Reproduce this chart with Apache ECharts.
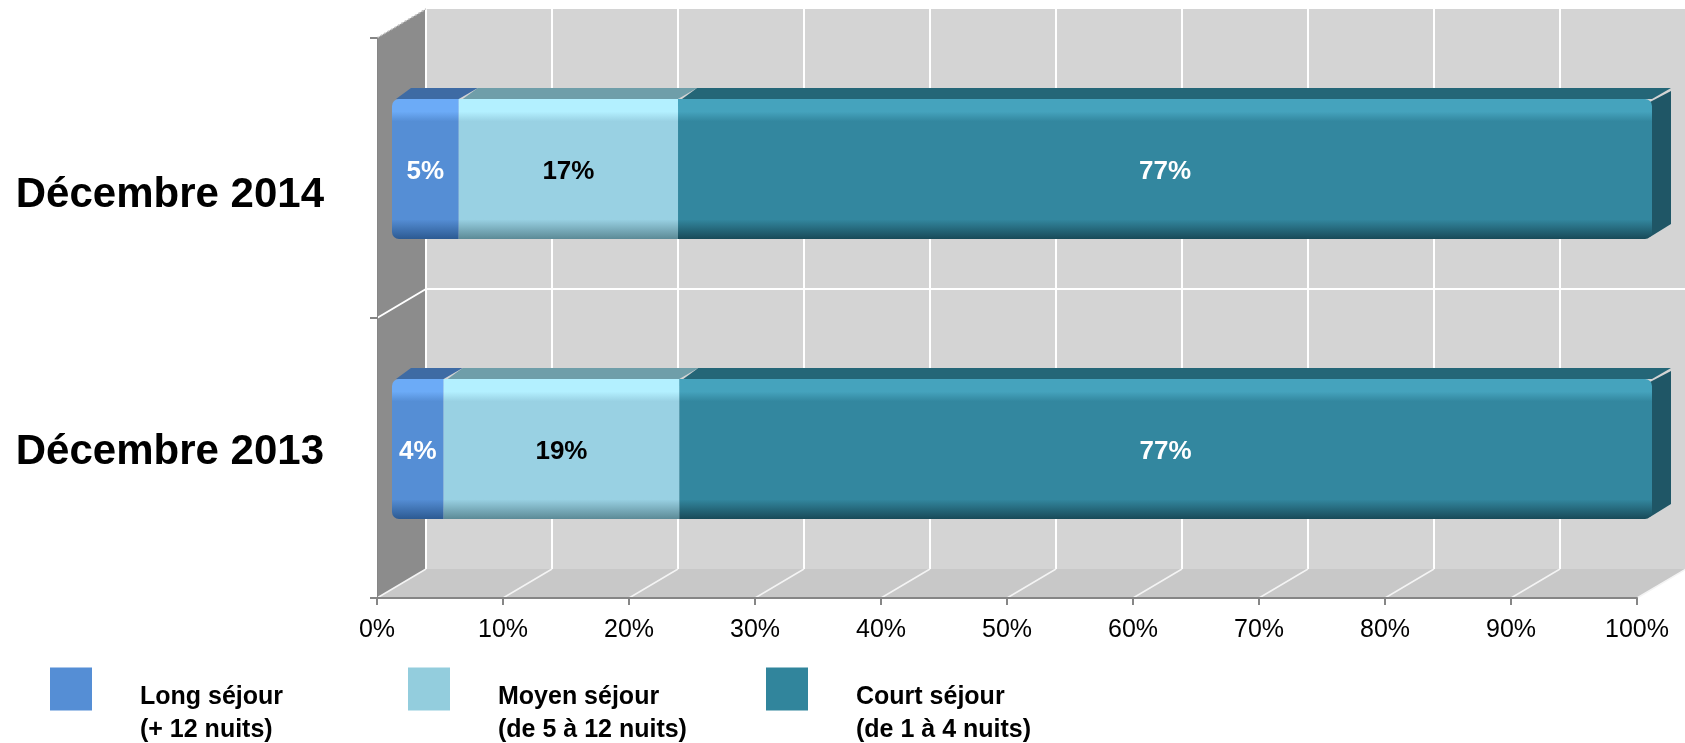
<!DOCTYPE html>
<html>
<head>
<meta charset="utf-8">
<script src="https://cdn.jsdelivr.net/npm/echarts@6/dist/echarts.min.js"></script>
<style>
  html, body { margin: 0; padding: 0; background: #fff; }
  #chart { width: 1685px; height: 743px; }
</style>
</head>
<body>
<div id="chart"></div>
<script>
// données
var categories = ['Décembre 2013', 'Décembre 2014'];
var longSejour = [4.1, 5.3];
var moyenSejour = [18.7, 17.4];
var courtSejour = [77.2, 77.3];
var seriesNames = ['Long séjour\n(+ 12 nuits)', 'Moyen séjour\n(de 5 à 12 nuits)', 'Court séjour\n(de 1 à 4 nuits)'];

// effet 3D
var WALL = [49, -29];   // profondeur du fond
var OFF = [15, -9];     // face avant des barres
var DEP = [19, -11];    // épaisseur des barres
var FONT = 'Arial, "Liberation Sans", sans-serif';

var styles = [
  { base: '#558ed5', hi: '#6cabf7', lo: '#2c5a92', top: '#3e6ba4', label: '#ffffff' },
  { base: '#99d1e3', hi: '#b3f0ff', lo: '#5c8a96', top: '#6f9ea9', label: '#000000' },
  { base: '#33879f', hi: '#45a3bd', lo: '#184a58', top: '#246677', side: '#1f5666', label: '#ffffff' }
];

function buildData(vals, starts) {
  return categories.map(function (c, i) {
    return [i, starts[i], starts[i] + vals[i], vals[i]];
  });
}
var start1 = categories.map(function () { return 0; });
var start2 = longSejour.slice();
var start3 = longSejour.map(function (v, i) { return v + moyenSejour[i]; });

function grad(s) {
  return new echarts.graphic.LinearGradient(0, 0, 0, 1, [
    { offset: 0, color: s.hi },
    { offset: 0.09, color: s.hi },
    { offset: 0.16, color: s.base },
    { offset: 0.86, color: s.base },
    { offset: 1, color: s.lo }
  ]);
}

function barRender(s, idx) {
  return function (params, api) {
    var cat = api.value(0);
    var a = api.coord([api.value(1), cat]);
    var b = api.coord([api.value(2), cat]);
    var h = api.size([0, 1])[1] * 0.5;
    var x0 = a[0] + OFF[0], x1 = b[0] + OFF[0];
    var yT = a[1] - h / 2 + OFF[1], yB = yT + h;
    var r = idx === 0 ? [7, 0, 0, 7] : (idx === 2 ? [0, 7, 7, 0] : 0);
    var children = [
      {
        type: 'polygon',
        shape: { points: [[x0 + 4, yT], [x1, yT], [x1 + DEP[0], yT + DEP[1]], [x0 + DEP[0], yT + DEP[1]]] },
        style: { fill: s.top }
      }
    ];
    if (idx === 2) {
      children.push({
        type: 'polygon',
        shape: { points: [[x1 - 2, yT + 3], [x1 + DEP[0], yT + DEP[1] + 3], [x1 + DEP[0], yB + DEP[1] - 4], [x1 - 2, yB - 2]] },
        style: { fill: s.side }
      });
    }
    children.push({
      type: 'rect',
      shape: { x: x0, y: yT, width: x1 - x0, height: h, r: r },
      style: { fill: grad(s) }
    });
    children.push({
      type: 'text',
      style: {
        text: Math.round(api.value(3)) + '%',
        x: (x0 + x1) / 2, y: (yT + yB) / 2 + 3,
        align: 'center', verticalAlign: 'middle',
        font: 'bold 26px ' + FONT, fill: s.label
      }
    });
    return { type: 'group', children: children };
  };
}

function wallsRender(params, api) {
  var band = api.size([0, 1])[1];
  var xL = api.coord([0, 0])[0];
  var xR = api.coord([100, 0])[0];
  var yBot = api.coord([0, 0])[1] + band / 2;
  var yTop = api.coord([0, categories.length - 1])[1] - band / 2;
  var dx = WALL[0], dy = WALL[1];
  var children = [
    { type: 'rect', shape: { x: xL + dx, y: yTop + dy, width: xR - xL, height: yBot - yTop }, style: { fill: '#d4d4d4' } },
    { type: 'polygon', shape: { points: [[xL, yBot], [xR, yBot], [xR + dx, yBot + dy], [xL + dx, yBot + dy]] }, style: { fill: '#c8c8c8' } },
    { type: 'polygon', shape: { points: [[xL, yTop], [xL + dx, yTop + dy], [xL + dx, yBot + dy], [xL, yBot]] }, style: { fill: '#8c8c8c' } }
  ];
  for (var v = 0; v <= 100; v += 10) {
    var x = api.coord([v, 0])[0];
    children.push({ type: 'line', shape: { x1: x + dx, y1: yTop + dy, x2: x + dx, y2: yBot + dy }, style: { stroke: '#ffffff', lineWidth: 2 } });
    children.push({ type: 'line', shape: { x1: x, y1: yBot, x2: x + dx, y2: yBot + dy }, style: { stroke: '#f4f4f4', lineWidth: 1.5 } });
  }
  for (var i = 1; i < categories.length; i++) {
    var y = api.coord([0, i])[1] + band / 2;
    children.push({ type: 'line', shape: { x1: xL + dx, y1: y + dy, x2: xR + dx, y2: y + dy }, style: { stroke: '#ffffff', lineWidth: 2 } });
    children.push({ type: 'line', shape: { x1: xL, y1: y, x2: xL + dx, y2: y + dy }, style: { stroke: '#ffffff', lineWidth: 2 } });
  }
  children.push({ type: 'line', shape: { x1: xL, y1: yTop, x2: xL + dx, y2: yTop + dy }, style: { stroke: '#bdbdbd', lineWidth: 1.5, lineDash: [2, 2] } });
  return { type: 'group', children: children };
}

function legendAt(name, left) {
  return {
    data: [{ name: name, icon: 'rect' }],
    left: left, top: 631, padding: 0,
    itemWidth: 42, itemHeight: 43,
    selectedMode: false,
    formatter: function (n) {
      return '{p|}\n' + n.split('\n').map(function (l) { return '{t|' + l + '}'; }).join('\n');
    },
    textStyle: {
      fontFamily: FONT, fontWeight: 'bold', fontSize: 25, color: '#000',
      rich: {
        p: { height: 50, lineHeight: 50, padding: [0, 0, 0, 43] },
        t: { fontFamily: FONT, fontWeight: 'bold', fontSize: 25, color: '#000', lineHeight: 33, padding: [0, 0, 0, 43] }
      }
    }
  };
}

var myChart = echarts.init(document.getElementById('chart'));
var option = {
  backgroundColor: '#ffffff',
  animation: false,
  legend: [
    legendAt(seriesNames[0], 50),
    legendAt(seriesNames[1], 408),
    legendAt(seriesNames[2], 766)
  ],
  grid: { left: 377, right: 48, top: 38, bottom: 145 },
  xAxis: {
    type: 'value', min: 0, max: 100, interval: 10,
    axisLine: { show: true, lineStyle: { color: '#868686', width: 2 } },
    axisTick: { show: true, length: 7, lineStyle: { color: '#868686', width: 2 } },
    splitLine: { show: false },
    axisLabel: { formatter: '{value}%', color: '#000', fontFamily: FONT, fontSize: 25, margin: 20 }
  },
  yAxis: {
    type: 'category', data: categories,
    axisLine: { show: true, lineStyle: { color: '#868686', width: 1 } },
    axisTick: { show: true, length: 7, lineStyle: { color: '#868686', width: 2 } },
    axisLabel: {
      margin: 53,
      formatter: function (v) {
        return v.indexOf('2014') >= 0 ? '{a|' + v + '}' : '{b|' + v + '}';
      },
      rich: {
        a: { fontFamily: FONT, fontWeight: 'bold', fontSize: 42, color: '#000', padding: [34, 0, 0, 0] },
        b: { fontFamily: FONT, fontWeight: 'bold', fontSize: 42, color: '#000', padding: [0, 0, 12, 0] }
      }
    }
  },
  series: [
    {
      name: 'walls', type: 'custom', silent: true, z: 0,
      data: [[0, 0]], encode: { x: 0, y: 1 },
      renderItem: wallsRender
    },
    {
      name: seriesNames[0], type: 'custom', z: 2,
      itemStyle: { color: '#558ed5' },
      data: buildData(longSejour, start1), encode: { x: [1, 2], y: 0 },
      renderItem: barRender(styles[0], 0)
    },
    {
      name: seriesNames[1], type: 'custom', z: 3,
      itemStyle: { color: '#93cddd' },
      data: buildData(moyenSejour, start2), encode: { x: [1, 2], y: 0 },
      renderItem: barRender(styles[1], 1)
    },
    {
      name: seriesNames[2], type: 'custom', z: 4,
      itemStyle: { color: '#31859c' },
      data: buildData(courtSejour, start3), encode: { x: [1, 2], y: 0 },
      renderItem: barRender(styles[2], 2)
    }
  ]
};
myChart.setOption(option);
</script>
</body>
</html>
